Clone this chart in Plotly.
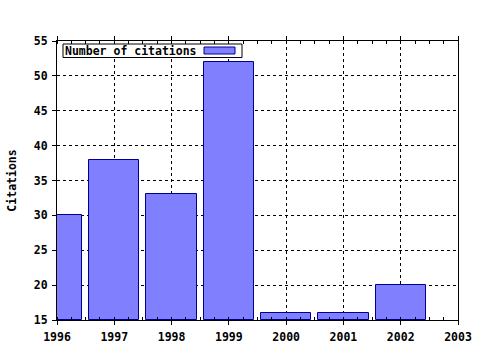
import plotly.graph_objects as go

years = [1996, 1997, 1998, 1999, 2000, 2001, 2002]
citations = [30, 38, 33, 52, 16, 16, 20]
base_value = 15
series_name = "Number of citations"
y_title = "Citations"

font = dict(family="DejaVu Sans Mono", size=11.5, color="black", weight="bold")
bar_fill = "#8080ff"
bar_edge = "#000090"

fig = go.Figure()
fig.add_trace(go.Bar(
    x=years, y=[v - base_value for v in citations], base=base_value,
    name=series_name, width=0.88,
    marker=dict(color=bar_fill, line=dict(color=bar_edge, width=1)),
    showlegend=False,
))

W, H = 480, 350
L, R, T, B = 57, 22, 41, 30
pw, ph = W - L - R, H - T - B

def px(x):
    return (x - L) / pw

def py(y):
    return (H - B - y) / ph

fig.update_layout(
    width=W, height=H,
    margin=dict(l=L, r=R, t=T, b=B, autoexpand=False),
    paper_bgcolor="white", plot_bgcolor="white",
    font=font,
    bargap=0,
    showlegend=False,
)
# legend box drawn as shapes + text
fig.add_shape(
    type="rect", xref="paper", yref="paper",
    x0=px(63), x1=px(242), y0=py(57.5), y1=py(44),
    fillcolor="white", line=dict(color="black", width=1), layer="above",
)
fig.add_shape(
    type="rect", xref="paper", yref="paper",
    x0=px(204), x1=px(235), y0=py(54), y1=py(47),
    fillcolor=bar_fill, line=dict(color=bar_edge, width=1), layer="above",
)
fig.add_annotation(
    xref="paper", yref="paper", x=px(64), y=py(50.5), xanchor="left", yanchor="middle",
    text=series_name, showarrow=False, font=font, borderpad=0,
)
fig.update_xaxes(
    range=[1996, 2003], dtick=1, tick0=1996,
    showline=True, linecolor="black", linewidth=1, mirror="ticks",
    ticks="outside", ticklen=4, tickcolor="black",
    showgrid=True, gridcolor="black", griddash="dot", gridwidth=1,
    minor=dict(dtick=0.25, ticks="inside", ticklen=3, tickcolor="black", showgrid=False),
    zeroline=False, tickfont=font, ticklabelstandoff=2, automargin=False,
)
fig.update_yaxes(
    range=[15, 55], dtick=5,
    showline=True, linecolor="black", linewidth=1, mirror=True,
    ticks="outside", ticklen=4, tickcolor="black",
    showgrid=True, gridcolor="black", griddash="dot", gridwidth=1,
    zeroline=False, tickfont=font, ticklabelstandoff=2, automargin=False,
    title=dict(text=y_title, font=font, standoff=14),
)
fig.write_html("out.html")
